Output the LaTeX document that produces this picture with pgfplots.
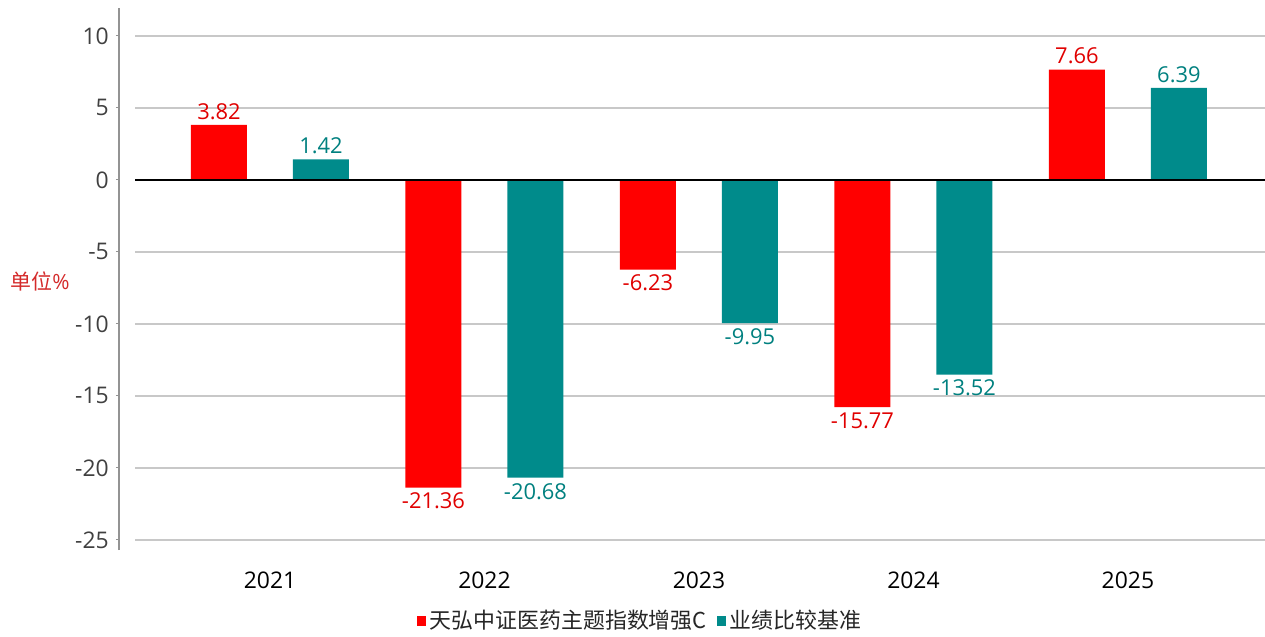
\documentclass[border=0pt]{standalone}
\usepackage{pgfplots}
\usepackage{pgfplotstable}
\pgfplotsset{compat=1.18}
\usepackage{fontspec}
\setmainfont{Open Sans}
\newfontfamily\cjk{Noto Sans CJK SC}
\definecolor{barred}{HTML}{FF0000}
\definecolor{barteal}{HTML}{008B8B}
\definecolor{labred}{HTML}{E00000}
\definecolor{labteal}{HTML}{00807F}
\definecolor{ylab}{HTML}{D42A2A}
\definecolor{tickgray}{HTML}{404040}
\definecolor{gridgray}{HTML}{C8C8C8}

\pgfplotstableread{
x y lab
0 3.82 3.82
1 -21.36 -21.36
2 -6.23 -6.23
3 -15.77 -15.77
4 7.66 7.66
}\fundtab
\pgfplotstableread{
x y lab
0 1.42 1.42
1 -20.68 -20.68
2 -9.95 -9.95
3 -13.52 -13.52
4 6.39 6.39
}\benchtab

\begin{document}
\begin{tikzpicture}
\path[use as bounding box] (-59.5bp,-43.5bp) rectangle (573bp,275bp);
\begin{axis}[
  scale only axis,
  width=573bp, height=271bp,
  xmin=-0.704, xmax=4.639,
  ymin=-25.7, ymax=11.94,
  ybar, bar width=28bp,
  axis lines*=left,
  x axis line style={draw=none},
  y axis line style={draw=gray!85, line width=0.6bp},
  xtick={0,1,2,3,4},
  xticklabels={2021,2022,2023,2024,2025},
  xticklabel style={font=\fontsize{11.5}{13}\selectfont, text=black, yshift=-6bp},
  major x tick style={draw=none},
  ytick={-25,-20,-15,-10,-5,0,5,10},
  yticklabels={-25,-20,-15,-10,-5,0,5,10},
  yticklabel style={font=\fontsize{11.5}{13}\selectfont, text=tickgray},
  major y tick style={draw=gray!85, line width=0.5bp},
  tick align=outside,
  major tick length=1.6bp,
  ylabel={\cjk 单位}\%,
  ylabel style={rotate=-90, at={(rel axis cs:0,0.4947)}, anchor=center, xshift=-39.5bp, text=ylab, font=\fontsize{10.5}{12}\selectfont},
  clip=false,
  legend columns=2,
  legend style={at={(rel axis cs:0.4555,-0.131)}, anchor=center, draw=none, fill=none,
    font=\fontsize{11}{12}\selectfont, text=black!85,
    /tikz/every even column/.append style={column sep=3bp}},
  legend image code/.code={\fill[#1] (0bp,-2.3bp) rectangle (4.6bp,2.3bp);},
  point meta=explicit symbolic,
  nodes near coords,
  visualization depends on={rawy \as \rawy},
  every node near coord/.append style={font=\fontsize{11}{12}\selectfont,
    anchor=\ifdim\rawy pt<0pt north\else south\fi, inner sep=2.5bp},
]
\foreach \v in {-25,-20,-15,-10,-5,5,10} {
  \edef\tmp{\noexpand\draw[gridgray, line width=0.6bp] (axis cs:-0.629,\v) -- (axis cs:4.639,\v);}
  \tmp
}
\addplot[bar shift=-25.5bp, fill=barred, draw=none,
  every node near coord/.append style={text=labred}]
  table[x=x, y=y, meta=lab] {\fundtab};
\addlegendentry{\cjk 天弘中证医药主题指数增强C}
\addplot[bar shift=25.5bp, fill=barteal, draw=none,
  every node near coord/.append style={text=labteal}]
  table[x=x, y=y, meta=lab] {\benchtab};
\addlegendentry{\cjk 业绩比较基准}
\draw[black, line width=1bp] (axis cs:-0.629,0) -- (axis cs:4.639,0);
\end{axis}
\end{tikzpicture}
\end{document}
